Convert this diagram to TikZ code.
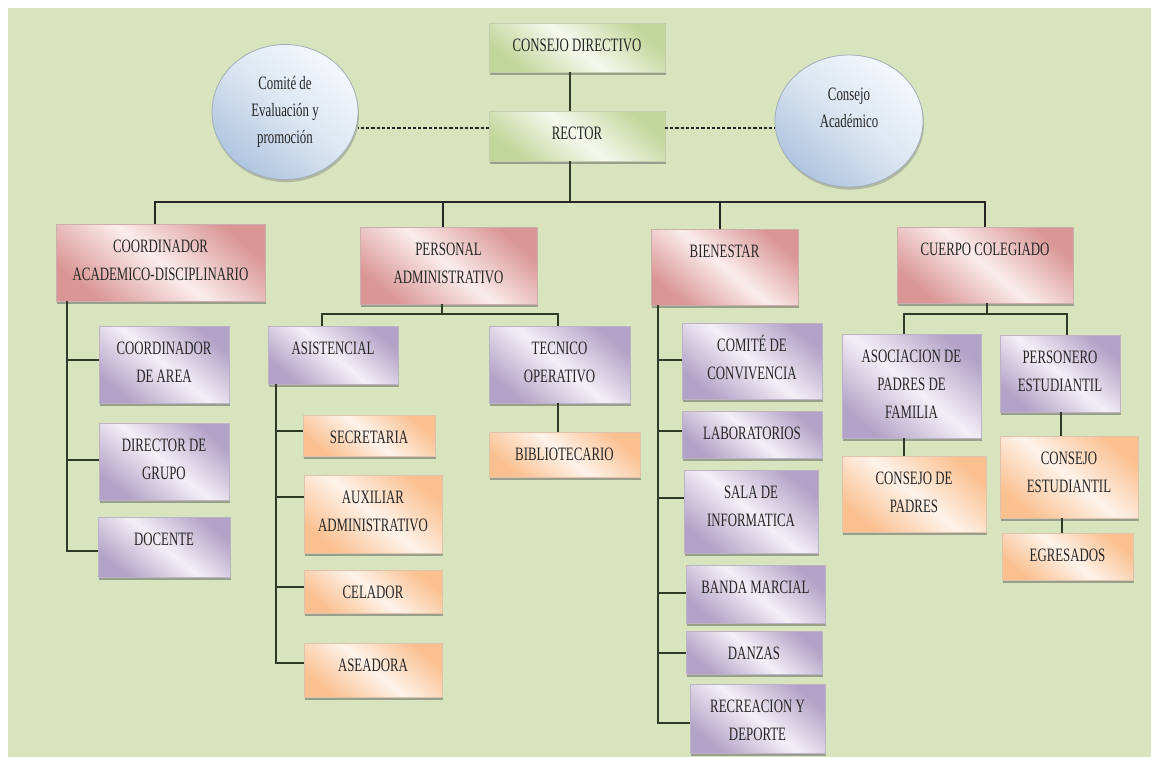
\documentclass[tikz,border=0pt]{standalone}
\usepackage{fontspec}
\setmainfont{Liberation Serif}[FakeStretch=0.68]
\usetikzlibrary{shadows,calc,shapes.geometric}
\definecolor{bg}{HTML}{D7E4BD}
\definecolor{rD}{HTML}{D99694}
\definecolor{rL}{HTML}{FBEDED}
\definecolor{pD}{HTML}{B3A2C7}
\definecolor{pL}{HTML}{F3F0F7}
\definecolor{oD}{HTML}{FAC090}
\definecolor{oL}{HTML}{FEF3EA}
\definecolor{gD}{HTML}{C3D69B}
\definecolor{gL}{HTML}{F5F9EE}
\definecolor{bD}{HTML}{AFC5E0}
\definecolor{bL}{HTML}{F4F8FC}
\definecolor{ln}{HTML}{2F3B27}
\tikzset{
  base/.style={anchor=north west, inner sep=0pt, outer sep=0pt, text=black!85,
    font=\fontsize{9.45}{14}\selectfont,
    drop shadow={shadow xshift=0.5pt, shadow yshift=-1.3pt, opacity=0.45, fill=black!70}},
  rbox/.style={base, draw=rD!80!black!60, line width=0.2pt, top color=rD, bottom color=rD, middle color=rL, shading angle=-40},
  pbox/.style={base, draw=pD!80!black!60, line width=0.2pt, top color=pD, bottom color=pD, middle color=pL, shading angle=-40},
  obox/.style={base, draw=oD!80!black!60, line width=0.2pt, top color=oD, bottom color=oD, middle color=oL, shading angle=-40},
  gbox/.style={base, draw=gD!80!black!60, line width=0.2pt, top color=gD, bottom color=gD, middle color=gL, shading angle=-40},
  ell/.style={ellipse, inner sep=0pt, draw=bD!70!black!70, line width=0.4pt,
    top color=bL, bottom color=bD, middle color=bD!45!white, shading angle=-40,
    text=black!85, align=center, font=\fontsize{9.45}{13.5}\selectfont,
    drop shadow={shadow xshift=0.5pt, shadow yshift=-1.3pt, opacity=0.35, fill=black!60}},
  conn/.style={draw=ln, line width=0.75pt},
  bus/.style={draw=black!85, line width=0.8pt},
  dsh/.style={draw=black!85, line width=0.6pt, dash pattern=on 1.6pt off 1pt}
}
\newcommand\bx[7]{\node[#2] (#1) at (#3,#4) {\parbox[c][\dimexpr#6pt/2\relax][t]{\dimexpr#5pt/2\relax}{\centering\rule{0pt}{14pt}#7\par}};}
\begin{document}
\begin{tikzpicture}[x=0.5pt,y=-0.5pt]
\useasboundingbox (0,0) rectangle (1151,756);
\fill[white] (-20,-20) rectangle (1180,780);
\fill[bg] (8,8) rectangle (1180,780);

% top
\bx{cd}{gbox}{489}{23}{176}{49}{CONSEJO DIRECTIVO}
\bx{rector}{gbox}{489}{111}{176}{50}{RECTOR}
\node[ell, minimum width=73pt, minimum height=67.5pt] (el1) at (285,112) {Comité de\\Evaluación y\\promoción};
\node[ell, minimum width=74pt, minimum height=66pt] (el2) at (849,121) {Consejo\\Académico\\\mbox{}};

% level 2
\bx{cad}{rbox}{56}{224}{209}{77}{COORDINADOR\\ACADEMICO-DISCIPLINARIO}
\bx{pers}{rbox}{360}{227}{177}{77}{PERSONAL\\ADMINISTRATIVO}
\bx{bien}{rbox}{651}{229}{147}{76}{BIENESTAR}
\bx{cuer}{rbox}{897}{227}{176}{76}{CUERPO COLEGIADO}

% coordinador branch
\bx{area}{pbox}{99}{326}{130}{77}{COORDINADOR\\DE AREA}
\bx{grupo}{pbox}{99}{423}{130}{77}{DIRECTOR DE\\GRUPO}
\bx{docente}{pbox}{98}{517}{132}{60}{DOCENTE}

% personal branch
\bx{asis}{pbox}{268}{326}{130}{58}{ASISTENCIAL}
\bx{tec}{pbox}{489}{326}{141}{77}{TECNICO\\OPERATIVO}
\bx{sec}{obox}{303}{415}{132}{41}{SECRETARIA}
\bx{aux}{obox}{304}{475}{138}{78}{AUXILIAR\\ADMINISTRATIVO}
\bx{cel}{obox}{304}{570}{138}{43}{CELADOR}
\bx{asea}{obox}{304}{643}{138}{54}{ASEADORA}
\bx{bib}{obox}{489}{432}{151}{45}{BIBLIOTECARIO}

% bienestar branch
\bx{conv}{pbox}{682}{323}{140}{76}{COMITÉ DE\\CONVIVENCIA}
\bx{lab}{pbox}{682}{411}{140}{47}{LABORATORIOS}
\bx{sala}{pbox}{684}{470}{134}{83}{SALA DE\\INFORMATICA}
\bx{banda}{pbox}{686}{565}{139}{58}{BANDA MARCIAL}
\bx{danzas}{pbox}{686}{631}{136}{43}{DANZAS}
\bx{recre}{pbox}{690}{684}{135}{69}{RECREACION Y\\DEPORTE}

% cuerpo branch
\bx{asoc}{pbox}{842}{334}{139}{104}{ASOCIACION DE\\PADRES DE\\FAMILIA}
\bx{persn}{pbox}{1000}{335}{120}{77}{PERSONERO\\ESTUDIANTIL}
\bx{cpad}{obox}{842}{456}{144}{76}{CONSEJO DE\\PADRES}
\bx{cest}{obox}{1000}{436}{138}{82}{CONSEJO\\ESTUDIANTIL}
\bx{egr}{obox}{1002}{533}{131}{47}{EGRESADOS}

% top connectors
\draw[conn] ($(cd.south)+(-7,0)$) -- ($(rector.north)+(-7,0)$);
\coordinate (bus) at ($(rector.south)+(-7,41)$);
\draw[conn] ($(rector.south)+(-7,0)$) -- (bus);
\draw[bus] ($(cad.north)+(-5.5,0)$) |- (bus) -| (cuer.north);
\draw[bus] ($(pers.north)+(-5.5,0)$) |- (bus);
\draw[bus] ($(bien.north)+(-4.5,0)$) |- (bus);
\coordinate (dl) at ($(rector.west)+(0,-8)$);
\coordinate (dr) at ($(rector.east)+(0,-8)$);
\draw[dsh] (dl) -- (el1.east |- dl);
\draw[dsh] (dr) -- (el2.west |- dr);

% coordinador spine
\coordinate (s1) at ($(cad.south west)+(11,0)$);
\coordinate (b11) at ($(area.west)+(0,-4.5)$);
\coordinate (b12) at ($(grupo.west)+(0,-1.5)$);
\coordinate (b13) at ($(docente.west)+(0,4)$);
\draw[conn] (s1) |- (b13);
\draw[conn] (b11) -- (s1 |- b11);
\draw[conn] (b12) -- (s1 |- b12);

% personal sub-bus
\coordinate (pb) at ($(pers.south)+(-6.5,10)$);
\draw[conn] ($(pers.south)+(-6.5,0)$) -- (pb);
\draw[conn] ($(asis.north)+(-11,0)$) |- (pb) -| ($(tec.north)+(-1.5,0)$);
\draw[conn] ($(tec.south)+(-1.5,0)$) coordinate (t1) -- (t1 |- bib.north);

% asistencial spine
\coordinate (s2) at ($(asis.south west)+(8,0)$);
\coordinate (b21) at ($(sec.west)+(0,-4.5)$);
\coordinate (b22) at ($(aux.west)+(0,-17)$);
\coordinate (b23) at ($(cel.west)+(0,-4.5)$);
\coordinate (b24) at ($(asea.west)+(0,-7)$);
\draw[conn] (s2) |- (b24);
\draw[conn] (b21) -- (s2 |- b21);
\draw[conn] (b22) -- (s2 |- b22);
\draw[conn] (b23) -- (s2 |- b23);

% bienestar spine
\coordinate (s3) at ($(bien.south west)+(7,0)$);
\coordinate (b31) at ($(conv.west)+(0,-1)$);
\coordinate (b32) at ($(lab.west)+(0,-3.5)$);
\coordinate (b33) at ($(sala.west)+(0,-13.5)$);
\coordinate (b34) at ($(banda.west)+(0,-1)$);
\coordinate (b35) at ($(danzas.west)+(0,0.5)$);
\coordinate (b36) at ($(recre.west)+(0,4.5)$);
\draw[conn] (s3) |- (b36);
\draw[conn] (b31) -- (s3 |- b31);
\draw[conn] (b32) -- (s3 |- b32);
\draw[conn] (b33) -- (s3 |- b33);
\draw[conn] (b34) -- (s3 |- b34);
\draw[conn] (b35) -- (s3 |- b35);

% cuerpo sub-bus
\coordinate (cb) at ($(cuer.south)+(2,11)$);
\draw[conn] ($(cuer.south)+(2,0)$) -- (cb);
\draw[conn] ($(asoc.north)+(-7.5,0)$) |- (cb) -| ($(persn.north)+(7,0)$);
\draw[conn] ($(asoc.south)+(-7.5,0)$) coordinate (t2) -- (t2 |- cpad.north);
\draw[conn] ($(persn.south)+(1,0)$) coordinate (t3) -- (t3 |- cest.north);
\draw[conn] ($(cest.south)+(-7,0)$) coordinate (t4) -- (t4 |- egr.north);
\end{tikzpicture}
\end{document}
